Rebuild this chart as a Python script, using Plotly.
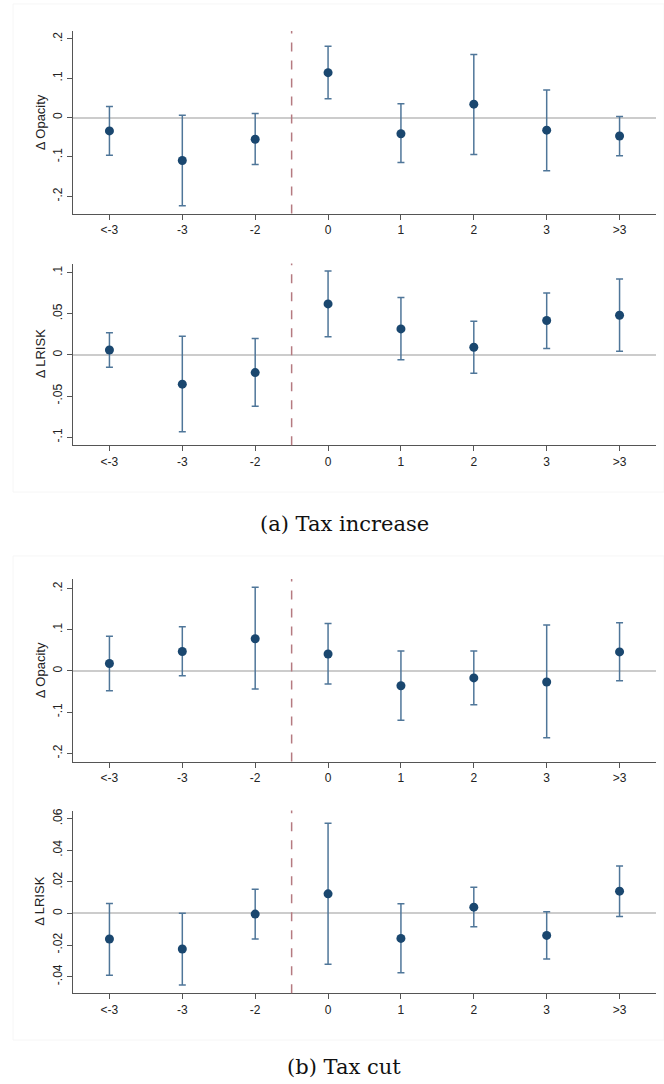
import plotly.graph_objects as go

# Event-time categories (years relative to the tax change)
categories = ["<-3", "-3", "-2", "0", "1", "2", "3", ">3"]

# (a) Tax increase: Δ Opacity
inc_opacity_est = [-0.034, -0.109, -0.055, 0.114, -0.041, 0.034, -0.032, -0.047]
inc_opacity_hi = [0.028, 0.006, 0.010, 0.181, 0.035, 0.160, 0.070, 0.003]
inc_opacity_lo = [-0.096, -0.224, -0.119, 0.048, -0.114, -0.094, -0.135, -0.097]

# (a) Tax increase: Δ LRISK
inc_lrisk_est = [0.006, -0.0356, -0.0215, 0.0619, 0.0316, 0.0093, 0.0417, 0.0482]
inc_lrisk_hi = [0.027, 0.0227, 0.0198, 0.102, 0.0696, 0.0409, 0.0753, 0.0923]
inc_lrisk_lo = [-0.015, -0.0935, -0.0623, 0.0219, -0.006, -0.0223, 0.0077, 0.0045]

# (b) Tax cut: Δ Opacity
cut_opacity_est = [0.018, 0.047, 0.078, 0.041, -0.036, -0.017, -0.027, 0.046]
cut_opacity_hi = [0.084, 0.107, 0.203, 0.115, 0.048, 0.048, 0.111, 0.117]
cut_opacity_lo = [-0.048, -0.012, -0.044, -0.032, -0.120, -0.082, -0.162, -0.024]

# (b) Tax cut: Δ LRISK
cut_lrisk_est = [-0.0162, -0.0225, -0.0004, 0.0124, -0.0158, 0.0040, -0.0139, 0.0141]
cut_lrisk_hi = [0.0063, 0.0002, 0.0154, 0.0571, 0.0061, 0.0166, 0.0011, 0.0301]
cut_lrisk_lo = [-0.0392, -0.0453, -0.0162, -0.0322, -0.0375, -0.0084, -0.0288, -0.0019]

# y tick values / labels per panel
opacity_ticks = [-0.2, -0.1, 0.0, 0.1, 0.2]
opacity_ticktext = ["-.2", "-.1", "0", ".1", ".2"]
lrisk_inc_ticks = [-0.1, -0.05, 0.0, 0.05, 0.1]
lrisk_inc_ticktext = ["-.1", "-.05", "0", ".05", ".1"]
lrisk_cut_ticks = [-0.04, -0.02, 0.0, 0.02, 0.04, 0.06]
lrisk_cut_ticktext = ["-.04", "-.02", "0", ".02", ".04", ".06"]

W, H = 664, 1084
MARKER = "#1a476f"
BAR = "#4f7699"
DASH = "#b57a80"
AXIS = "#555555"
TEXT = "#222222"
SANS = "Liberation Sans, Arial, sans-serif"


def py(p):
    return 1 - p / H


panels = [
    dict(est=inc_opacity_est, hi=inc_opacity_hi, lo=inc_opacity_lo,
         top=29, bot=212, yr=[-0.244, 0.220], tv=opacity_ticks,
         tt=opacity_ticktext, title="Δ Opacity"),
    dict(est=inc_lrisk_est, hi=inc_lrisk_hi, lo=inc_lrisk_lo,
         top=262, bot=444, yr=[-0.1097, 0.111], tv=lrisk_inc_ticks,
         tt=lrisk_inc_ticktext, title="Δ LRISK"),
    dict(est=cut_opacity_est, hi=cut_opacity_hi, lo=cut_opacity_lo,
         top=578, bot=761, yr=[-0.220, 0.223], tv=opacity_ticks,
         tt=opacity_ticktext, title="Δ Opacity"),
    dict(est=cut_lrisk_est, hi=cut_lrisk_hi, lo=cut_lrisk_lo,
         top=810, bot=993, yr=[-0.0505, 0.0652], tv=lrisk_cut_ticks,
         tt=lrisk_cut_ticktext, title="Δ LRISK"),
]

fig = go.Figure()
layout = dict(
    width=W, height=H,
    margin=dict(l=0, r=0, t=0, b=0),
    paper_bgcolor="white", plot_bgcolor="white",
    showlegend=False,
    font=dict(family=SANS, size=12, color=TEXT),
    shapes=[], annotations=[],
)

x0, x1 = 73 / W, 656 / W
for i, p in enumerate(panels, start=1):
    sfx = "" if i == 1 else str(i)
    xa, ya = "x" + sfx, "y" + sfx
    plus = [h - e for h, e in zip(p["hi"], p["est"])]
    minus = [e - l for e, l in zip(p["est"], p["lo"])]
    fig.add_trace(go.Scatter(
        x=categories, y=p["est"], mode="markers",
        xaxis=xa, yaxis=ya,
        marker=dict(color=MARKER, size=9),
        error_y=dict(type="data", array=plus, arrayminus=minus,
                     color=BAR, thickness=1.5, width=3.5),
    ))
    layout["xaxis" + sfx] = dict(
        domain=[x0, x1], anchor=ya, type="category",
        categoryorder="array", categoryarray=categories,
        range=[-0.5, 7.5], showgrid=False, zeroline=False,
        showline=True, linecolor=AXIS, linewidth=1.2,
        ticks="outside", ticklen=5, tickcolor=AXIS, tickwidth=1,
        tickfont=dict(family=SANS, size=12, color=TEXT), fixedrange=True,
    )
    layout["yaxis" + sfx] = dict(
        domain=[py(p["bot"]), py(p["top"])], anchor=xa,
        range=p["yr"], tickvals=p["tv"], ticktext=p["tt"], tickangle=-90,
        showgrid=False, zeroline=True, zerolinecolor="#cccccc", zerolinewidth=1.5,
        showline=True, linecolor=AXIS, linewidth=1.2,
        ticks="outside", ticklen=5, tickcolor=AXIS, tickwidth=1,
        tickfont=dict(family=SANS, size=12, color=TEXT), fixedrange=True,
    )
    # Dashed separator between pre- and post-event years
    layout["shapes"].append(dict(
        type="line", xref=xa, yref=ya + " domain", x0=2.5, x1=2.5, y0=0, y1=1,
        line=dict(color=DASH, width=1.5, dash="dash"), layer="above",
    ))
    layout["annotations"].append(dict(
        text=p["title"], textangle=-90, xref="paper", yref=ya + " domain",
        x=40 / W, y=0.5, xanchor="center", yanchor="middle", showarrow=False,
        font=dict(family=SANS, size=13, color=TEXT),
    ))

# faint outlines of the two graph regions
for top, bot in [(2, 491), (555, 1040)]:
    layout["shapes"].append(dict(
        type="rect", xref="paper", yref="paper",
        x0=13 / W, x1=1, y0=py(bot), y1=py(top),
        line=dict(color="#f6f6f6", width=1), layer="below",
    ))

# sub-figure captions
for text, ypix in [("(a) Tax increase", 523), ("(b) Tax cut", 1067)]:
    layout["annotations"].append(dict(
        text=text, xref="paper", yref="paper", x=344 / W, y=py(ypix),
        xanchor="center", yanchor="middle", showarrow=False,
        font=dict(family="DejaVu Serif, Liberation Serif, serif", size=21, color="#111111"),
    ))

fig.update_layout(**layout)
fig.write_html("out.html")
